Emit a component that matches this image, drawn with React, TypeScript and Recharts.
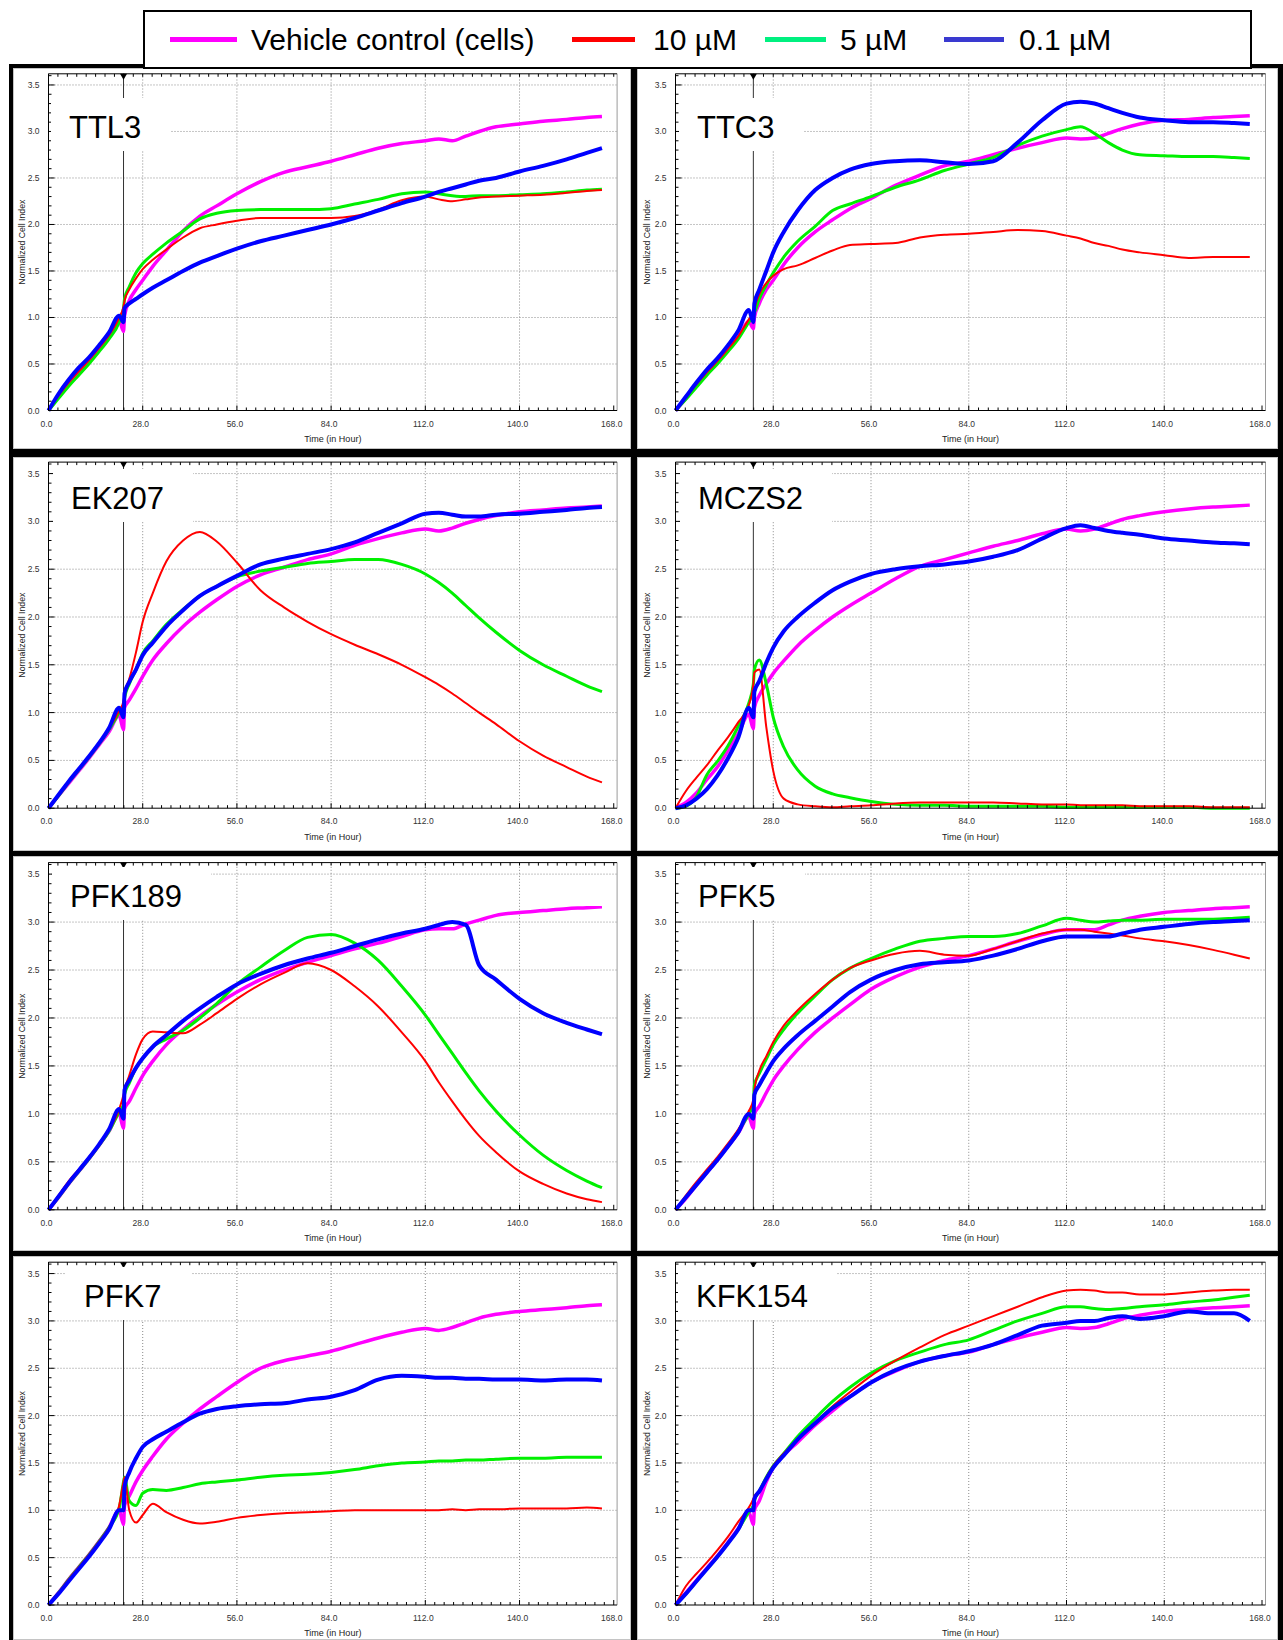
import React from 'react';
import { LineChart, Line, XAxis, YAxis, ReferenceLine } from 'recharts';

// sampling times (hours), shared by every curve
const TIME_H = [0, 3, 6, 9, 12, 15, 18, 21, 22.3, 22.6, 24, 26, 28, 31, 35, 40, 45, 50, 56, 63, 70, 77, 84, 91, 98, 105, 112, 116, 120, 124, 128, 133, 140, 147, 154, 160, 164.5];

const X_LABELS = [0, 28, 56, 84, 112, 140, 168];
const Y_LABELS = [0, 0.5, 1, 1.5, 2, 2.5, 3, 3.5];
const TREATMENT_H = 22.3;

// TTL3
const TTL3_VEH = [0, 0.15, 0.29, 0.41, 0.53, 0.66, 0.8, 0.97, 0.85, 1.02, 1.18, 1.3, 1.4, 1.55, 1.72, 1.93, 2.09, 2.2, 2.33, 2.46, 2.56, 2.62, 2.68, 2.75, 2.82, 2.87, 2.9, 2.92, 2.9, 2.95, 3.0, 3.05, 3.08, 3.11, 3.13, 3.15, 3.16];
const TTL3_10 = [0, 0.16, 0.3, 0.42, 0.54, 0.67, 0.81, 1.0, 1.12, 1.18, 1.3, 1.42, 1.52, 1.62, 1.73, 1.86, 1.96, 2.0, 2.04, 2.07, 2.07, 2.07, 2.07, 2.09, 2.16, 2.26, 2.3, 2.27, 2.25, 2.27, 2.29, 2.3, 2.31, 2.32, 2.34, 2.36, 2.37];
const TTL3_5 = [0, 0.13, 0.26, 0.38, 0.5, 0.63, 0.77, 0.95, 1.1, 1.2, 1.33, 1.48, 1.58, 1.68, 1.8, 1.93, 2.06, 2.12, 2.15, 2.16, 2.16, 2.16, 2.17, 2.22, 2.27, 2.33, 2.35, 2.33, 2.31, 2.3, 2.31, 2.31, 2.32, 2.33, 2.35, 2.37, 2.38];
const TTL3_01 = [0, 0.18, 0.33, 0.46, 0.57, 0.7, 0.84, 1.02, 0.95, 1.1, 1.15, 1.2, 1.25, 1.32, 1.4, 1.5, 1.59, 1.66, 1.74, 1.82, 1.88, 1.94, 2.0, 2.07, 2.15, 2.23, 2.3, 2.35, 2.39, 2.43, 2.47, 2.5, 2.57, 2.63, 2.7, 2.77, 2.82];

// TTC3
const TTC3_VEH = [0, 0.13, 0.27, 0.4, 0.52, 0.65, 0.79, 0.96, 0.88, 1.0, 1.15, 1.3, 1.4, 1.57, 1.75, 1.92, 2.05, 2.17, 2.28, 2.42, 2.53, 2.63, 2.68, 2.75, 2.82, 2.88, 2.93, 2.92, 2.93, 2.98, 3.03, 3.08, 3.12, 3.13, 3.15, 3.16, 3.17];
const TTC3_10 = [0, 0.14, 0.28, 0.41, 0.53, 0.66, 0.8, 0.98, 1.05, 1.1, 1.25, 1.37, 1.45, 1.52, 1.56, 1.64, 1.72, 1.78, 1.79, 1.8, 1.86, 1.89, 1.9, 1.92, 1.94, 1.93, 1.88, 1.85, 1.8, 1.77, 1.73, 1.7, 1.67, 1.64, 1.65, 1.65, 1.65];
const TTC3_5 = [0, 0.12, 0.25, 0.38, 0.5, 0.63, 0.77, 0.95, 1.02, 1.05, 1.2, 1.35, 1.48, 1.65, 1.82, 1.98, 2.15, 2.22, 2.3, 2.4, 2.48, 2.58, 2.65, 2.72, 2.85, 2.95, 3.02, 3.05, 2.98, 2.88, 2.8, 2.75, 2.74, 2.73, 2.73, 2.72, 2.71];
const TTC3_01 = [0, 0.15, 0.3, 0.44, 0.56, 0.7, 0.86, 1.08, 0.95, 1.15, 1.3, 1.5, 1.7, 1.92, 2.15, 2.37, 2.5, 2.59, 2.65, 2.68, 2.69, 2.67, 2.65, 2.68, 2.88, 3.12, 3.3, 3.32, 3.3, 3.25, 3.2, 3.15, 3.12, 3.1, 3.1, 3.09, 3.08];

// EK207
const EK207_VEH = [0, 0.13, 0.26, 0.39, 0.52, 0.66, 0.8, 0.97, 0.82, 1.05, 1.13, 1.25, 1.38, 1.55, 1.72, 1.9, 2.05, 2.18, 2.32, 2.44, 2.52, 2.6, 2.66, 2.75, 2.82, 2.88, 2.92, 2.9, 2.93, 2.98, 3.02, 3.06, 3.1, 3.12, 3.14, 3.15, 3.16];
const EK207_10 = [0, 0.14, 0.28, 0.41, 0.54, 0.68, 0.83, 1.02, 1.12, 1.2, 1.35, 1.63, 1.95, 2.25, 2.58, 2.8, 2.89, 2.79, 2.57, 2.28, 2.1, 1.95, 1.82, 1.71, 1.61, 1.5, 1.37, 1.29, 1.2, 1.1, 1.0, 0.88, 0.7, 0.55, 0.43, 0.33, 0.27];
const EK207_5 = [0, 0.13, 0.27, 0.4, 0.53, 0.67, 0.82, 1.0, 1.08, 1.15, 1.3, 1.45, 1.62, 1.75, 1.92, 2.08, 2.22, 2.32, 2.42, 2.48, 2.52, 2.56, 2.58, 2.6, 2.6, 2.55, 2.45, 2.36, 2.25, 2.12, 1.99, 1.84, 1.65, 1.5, 1.38, 1.28, 1.22];
const EK207_01 = [0, 0.14, 0.28, 0.41, 0.54, 0.68, 0.84, 1.05, 0.95, 1.2, 1.32, 1.45, 1.6, 1.73, 1.9, 2.07, 2.22, 2.32, 2.43, 2.55, 2.61, 2.66, 2.71, 2.78, 2.88, 2.98, 3.08, 3.09, 3.07, 3.05, 3.05, 3.07, 3.08, 3.1, 3.12, 3.14, 3.15];

// MCZS2
const MCZS2_VEH = [0, 0.06, 0.16, 0.3, 0.43, 0.6, 0.78, 0.98, 0.83, 1.05, 1.18, 1.3, 1.41, 1.54, 1.7, 1.86, 2.0, 2.12, 2.25, 2.4, 2.53, 2.6, 2.67, 2.74, 2.8, 2.87, 2.92, 2.9, 2.92, 2.97, 3.02, 3.06, 3.1, 3.13, 3.15, 3.16, 3.17];
const MCZS2_10 = [0, 0.18, 0.32, 0.45, 0.6, 0.74, 0.9, 1.08, 1.3, 1.42, 1.45, 0.85, 0.39, 0.1, 0.04, 0.02, 0.01, 0.02, 0.03, 0.05, 0.06, 0.06, 0.06, 0.06, 0.05, 0.04, 0.04, 0.03, 0.03, 0.03, 0.03, 0.02, 0.02, 0.02, 0.01, 0.01, 0.01];
const MCZS2_5 = [0, 0.02, 0.12, 0.35, 0.49, 0.65, 0.86, 1.1, 1.3, 1.45, 1.55, 1.3, 0.95, 0.64, 0.4, 0.23, 0.15, 0.11, 0.07, 0.04, 0.03, 0.03, 0.02, 0.02, 0.02, 0.02, 0.01, 0.01, 0.01, 0.01, 0.01, 0.01, 0.01, 0.01, 0, 0, 0];
const MCZS2_01 = [0, 0.03, 0.1, 0.2, 0.34, 0.52, 0.74, 1.05, 0.95, 1.22, 1.33, 1.52, 1.68, 1.85, 2.0, 2.15, 2.28, 2.37, 2.45, 2.5, 2.53, 2.55, 2.58, 2.63, 2.7, 2.82, 2.93, 2.96, 2.93, 2.9, 2.88, 2.86, 2.82, 2.8, 2.78, 2.77, 2.76];

// PFK189
const PFK189_VEH = [0, 0.13, 0.27, 0.4, 0.53, 0.67, 0.82, 1.0, 0.85, 1.05, 1.13, 1.27, 1.4, 1.55, 1.72, 1.88, 2.02, 2.14, 2.27, 2.4, 2.5, 2.58, 2.65, 2.72, 2.78, 2.85, 2.92, 2.93, 2.93, 2.98, 3.02, 3.07, 3.1, 3.12, 3.14, 3.15, 3.16];
const PFK189_10 = [0, 0.15, 0.3, 0.42, 0.55, 0.68, 0.83, 1.05, 1.2, 1.25, 1.4, 1.62, 1.78, 1.86, 1.85, 1.84, 1.93, 2.05, 2.2, 2.35, 2.47, 2.57, 2.5, 2.33, 2.12, 1.85, 1.55, 1.33, 1.13, 0.94, 0.77, 0.6, 0.4, 0.27, 0.17, 0.11, 0.08];
const PFK189_5 = [0, 0.13, 0.27, 0.4, 0.53, 0.67, 0.82, 1.02, 1.1, 1.2, 1.32, 1.48, 1.58, 1.7, 1.78, 1.87, 2.0, 2.15, 2.35, 2.53, 2.7, 2.84, 2.87, 2.78, 2.6, 2.33, 2.03, 1.83, 1.63, 1.43, 1.24, 1.03, 0.78, 0.57, 0.41, 0.3, 0.23];
const PFK189_01 = [0, 0.14, 0.28, 0.41, 0.54, 0.68, 0.84, 1.05, 0.95, 1.25, 1.35, 1.48, 1.58, 1.7, 1.82, 1.97, 2.1, 2.22, 2.35, 2.46, 2.55, 2.62, 2.68, 2.75, 2.82, 2.88, 2.93, 2.97, 3.0, 2.97, 2.55, 2.4, 2.2, 2.05, 1.95, 1.88, 1.83];

// PFK5
const PFK5_VEH = [0, 0.12, 0.26, 0.39, 0.52, 0.66, 0.8, 0.97, 0.85, 1.0, 1.08, 1.22, 1.35, 1.5, 1.67, 1.85, 2.0, 2.14, 2.3, 2.43, 2.53, 2.6, 2.65, 2.72, 2.8, 2.87, 2.92, 2.92, 2.92, 2.97, 3.02, 3.06, 3.1, 3.12, 3.14, 3.15, 3.16];
const PFK5_10 = [0, 0.15, 0.29, 0.42, 0.55, 0.69, 0.84, 1.03, 1.15, 1.25, 1.45, 1.6, 1.75, 1.92, 2.08, 2.25, 2.4, 2.52, 2.6, 2.67, 2.7, 2.66, 2.65, 2.72, 2.8, 2.88, 2.92, 2.92, 2.9, 2.88, 2.86, 2.83, 2.8, 2.76, 2.71, 2.66, 2.62];
const PFK5_5 = [0, 0.13, 0.27, 0.4, 0.53, 0.67, 0.82, 1.0, 1.1, 1.3, 1.42, 1.57, 1.72, 1.88, 2.05, 2.23, 2.4, 2.52, 2.62, 2.72, 2.8, 2.83, 2.85, 2.85, 2.88, 2.96, 3.04, 3.02, 3.0, 3.01, 3.02, 3.02, 3.03, 3.03, 3.03, 3.04, 3.05];
const PFK5_01 = [0, 0.13, 0.26, 0.39, 0.52, 0.66, 0.81, 1.0, 0.95, 1.2, 1.3, 1.43, 1.55, 1.68, 1.82, 1.97, 2.12, 2.27, 2.4, 2.5, 2.56, 2.58, 2.6, 2.65, 2.72, 2.8, 2.85, 2.85, 2.85, 2.85, 2.88, 2.92, 2.95, 2.98, 3.0, 3.01, 3.02];

// PFK7
const PFK7_VEH = [0, 0.13, 0.27, 0.4, 0.53, 0.67, 0.82, 1.0, 0.85, 1.05, 1.15, 1.3, 1.42, 1.57, 1.75, 1.92, 2.07, 2.2, 2.35, 2.5, 2.58, 2.63, 2.68, 2.75, 2.82, 2.88, 2.92, 2.9, 2.93, 2.98, 3.03, 3.07, 3.1, 3.12, 3.14, 3.16, 3.17];
const PFK7_10 = [0, 0.13, 0.27, 0.4, 0.53, 0.67, 0.82, 1.05, 1.3, 1.35, 1.0, 0.87, 0.95, 1.07, 0.98, 0.9, 0.86, 0.88, 0.92, 0.95, 0.97, 0.98, 0.99, 1.0, 1.0, 1.0, 1.0, 1.0, 1.01, 1.0, 1.01, 1.01, 1.02, 1.02, 1.02, 1.03, 1.02];
const PFK7_5 = [0, 0.13, 0.27, 0.4, 0.53, 0.67, 0.82, 1.02, 1.3, 1.35, 1.1, 1.05, 1.18, 1.22, 1.21, 1.24, 1.28, 1.3, 1.32, 1.35, 1.37, 1.38, 1.4, 1.43, 1.47, 1.5, 1.51, 1.52, 1.52, 1.53, 1.53, 1.54, 1.55, 1.55, 1.56, 1.56, 1.56];
const PFK7_01 = [0, 0.12, 0.25, 0.38, 0.51, 0.65, 0.8, 1.0, 1.0, 1.25, 1.4, 1.55, 1.67, 1.75, 1.83, 1.93, 2.02, 2.07, 2.1, 2.12, 2.13, 2.17, 2.2, 2.27, 2.38, 2.42, 2.41, 2.4, 2.4, 2.39, 2.39, 2.38, 2.38, 2.37, 2.38, 2.38, 2.37];

// KFK154
const KFK154_VEH = [0, 0.13, 0.26, 0.39, 0.52, 0.66, 0.81, 0.98, 0.85, 1.0, 1.1, 1.3, 1.45, 1.58, 1.72, 1.9, 2.05, 2.2, 2.35, 2.47, 2.57, 2.63, 2.67, 2.75, 2.82, 2.88, 2.93, 2.92, 2.93, 2.97, 3.02, 3.06, 3.1, 3.12, 3.14, 3.15, 3.16];
const KFK154_10 = [0, 0.2, 0.33, 0.45, 0.58, 0.72, 0.88, 1.03, 1.12, 1.15, 1.2, 1.35, 1.47, 1.6, 1.75, 1.93, 2.1, 2.25, 2.42, 2.58, 2.72, 2.85, 2.95, 3.05, 3.15, 3.25, 3.32, 3.33, 3.32, 3.3, 3.3, 3.28, 3.28, 3.3, 3.32, 3.33, 3.33];
const KFK154_5 = [0, 0.12, 0.25, 0.38, 0.51, 0.65, 0.8, 0.98, 1.05, 1.1, 1.2, 1.35, 1.47, 1.6, 1.78, 1.97, 2.15, 2.3, 2.45, 2.58, 2.67, 2.75, 2.8, 2.9, 3.0, 3.08, 3.15, 3.15, 3.13, 3.12, 3.13, 3.15, 3.17, 3.2, 3.22, 3.25, 3.27];
const KFK154_01 = [0, 0.12, 0.25, 0.38, 0.51, 0.65, 0.8, 1.0, 1.0, 1.12, 1.2, 1.33, 1.45, 1.58, 1.75, 1.92, 2.08, 2.2, 2.35, 2.48, 2.57, 2.63, 2.68, 2.75, 2.85, 2.95, 2.98, 3.0, 3.0, 3.03, 3.05, 3.02, 3.05, 3.1, 3.08, 3.08, 3.0];

const SERIES = [
  { key: 'veh', plot: '#ff00ff', width: 3.5 },
  { key: 'c5', plot: '#00f000', width: 3 },
  { key: 'c10', plot: '#ff0000', width: 2 },
  { key: 'c01', plot: '#0000ff', width: 4 },
];

const LEGEND = [
  { name: 'Vehicle control (cells)', color: '#ff00ff', segX: 170, segW: 67, textX: 251 },
  { name: '10 µM', color: '#ff0000', segX: 572, segW: 63, textX: 653 },
  { name: '5 µM', color: '#00f080', segX: 765, segW: 61, textX: 840 },
  { name: '0.1 µM', color: '#3a3ad0', segX: 944, segW: 60, textX: 1019 },
];

const PANELS = [
  { name: 'TTL3', col: 0, row: 0, labelX: 69, veh: TTL3_VEH, c10: TTL3_10, c5: TTL3_5, c01: TTL3_01 },
  { name: 'TTC3', col: 1, row: 0, labelX: 697, veh: TTC3_VEH, c10: TTC3_10, c5: TTC3_5, c01: TTC3_01 },
  { name: 'EK207', col: 0, row: 1, labelX: 71, veh: EK207_VEH, c10: EK207_10, c5: EK207_5, c01: EK207_01 },
  { name: 'MCZS2', col: 1, row: 1, labelX: 698, veh: MCZS2_VEH, c10: MCZS2_10, c5: MCZS2_5, c01: MCZS2_01 },
  { name: 'PFK189', col: 0, row: 2, labelX: 70, veh: PFK189_VEH, c10: PFK189_10, c5: PFK189_5, c01: PFK189_01 },
  { name: 'PFK5', col: 1, row: 2, labelX: 698, veh: PFK5_VEH, c10: PFK5_10, c5: PFK5_5, c01: PFK5_01 },
  { name: 'PFK7', col: 0, row: 3, labelX: 84, veh: PFK7_VEH, c10: PFK7_10, c5: PFK7_5, c01: PFK7_01 },
  { name: 'KFK154', col: 1, row: 3, labelX: 696, veh: KFK154_VEH, c10: KFK154_10, c5: KFK154_5, c01: KFK154_01 },
];

// layout (page pixels)
const COLS = [
  { left: 13, width: 618, mLeft: 5.5, mRight: 13.9, yLabelX: 8.7 },
  { left: 637, width: 641, mLeft: 8.5, mRight: 12.5, yLabelX: 10 },
];
const ROWS = [
  { top: 68, height: 381, mTop: 5.8, mBottom: 16.5, capTop: 116 },
  { top: 457, height: 394, mTop: 5.1, mBottom: 20.8, capTop: 487 },
  { top: 856, height: 395, mTop: 6.6, mBottom: 19.2, capTop: 885 },
  { top: 1256, height: 384, mTop: 6.2, mBottom: 13, capTop: 1285 },
];
const Y_AXIS_W = 30;
const X_AXIS_H = 22;
const X_MAX = 169;
const Y_MAX = 3.62;

const X_TICKS = Array.from({ length: 61 }, (_, k) => (k * 28) / 10);
const TOP_TICKS = [...X_TICKS, TREATMENT_H];
const Y_TICKS = Array.from({ length: 37 }, (_, k) => k / 10);

const FONT = '"Liberation Sans", Arial, sans-serif';

const bottomTick = (props: any) => {
  const { x, y, payload } = props;
  const v = payload.value;
  const major = X_LABELS.includes(v);
  return (
    <g>
      <line x1={x} x2={x} y1={y} y2={y - (major ? 5 : 3)} stroke="#000" />
      {major && (
        <text x={x - 2} y={y + 16} textAnchor="middle" fontSize={8.5} fill="#333">
          {v.toFixed(1)}
        </text>
      )}
    </g>
  );
};

const topTick = (props: any) => {
  const { x, y, payload } = props;
  if (Math.abs(payload.value - TREATMENT_H) < 1e-6) {
    return <polygon points={`${x - 3.5},${y} ${x + 3.5},${y} ${x},${y + 6}`} fill="#000" />;
  }
  return <line x1={x} x2={x} y1={y} y2={y + 3} stroke="#000" />;
};

const leftTick = (props: any) => {
  const { x, y, payload } = props;
  const v = payload.value;
  const major = Math.round(v * 10) % 5 === 0;
  return (
    <g>
      <line x1={x} x2={x + (major ? 6 : 3)} y1={y} y2={y} stroke="#000" />
      {major && (
        <text x={x - 9} y={y + 3} textAnchor="end" fontSize={8.5} fill="#333">
          {v.toFixed(1)}
        </text>
      )}
    </g>
  );
};

function Panel({ p }: { p: any }) {
  const col = COLS[p.col];
  const row = ROWS[p.row];
  const rows = TIME_H.map((t, i) => ({ t, veh: p.veh[i], c10: p.c10[i], c5: p.c5[i], c01: p.c01[i] }));
  return (
    <div style={{ position: 'absolute', left: col.left, top: row.top, width: col.width, height: row.height, background: '#fff' }}>
      <LineChart
        width={col.width}
        height={row.height}
        data={rows}
        margin={{ top: row.mTop - 1, right: col.mRight, bottom: row.mBottom, left: col.mLeft }}
      >
        <XAxis
          dataKey="t"
          type="number"
          domain={[0, X_MAX]}
          ticks={X_TICKS}
          interval={0}
          height={X_AXIS_H}
          tickSize={0}
          tickMargin={0}
          tickLine={false}
          tick={bottomTick}
          axisLine={{ stroke: '#000' }}
          label={{ value: 'Time (in Hour)', position: 'bottom', offset: 3, fontSize: 9, fill: '#222' }}
        />
        <XAxis
          xAxisId="top"
          orientation="top"
          dataKey="t"
          type="number"
          domain={[0, X_MAX]}
          ticks={TOP_TICKS}
          interval={0}
          height={1}
          tickSize={0}
          tickMargin={0}
          tickLine={false}
          tick={topTick}
          axisLine={{ stroke: '#000' }}
        />
        <YAxis
          type="number"
          domain={[0, Y_MAX]}
          ticks={Y_TICKS}
          interval={0}
          width={Y_AXIS_W}
          tickSize={0}
          tickMargin={0}
          tickLine={false}
          tick={leftTick}
          axisLine={{ stroke: '#000' }}
          label={{
            value: 'Normalized Cell Index',
            angle: -90,
            position: 'insideLeft',
            offset: col.yLabelX - col.mLeft,
            style: { textAnchor: 'middle', fontSize: 8.7, fill: '#222' },
          }}
        />
        {Y_LABELS.filter((v) => v > 0).map((v) => (
          <ReferenceLine key={`h${v}`} y={v} stroke="#8a8a8a" strokeDasharray="1 2" />
        ))}
        {X_LABELS.filter((v) => v > 0 && v < 168).map((v) => (
          <ReferenceLine key={`v${v}`} x={v} stroke="#8a8a8a" strokeDasharray="1 2" />
        ))}
        <ReferenceLine x={X_MAX} stroke="#9a9a9a" />
        <ReferenceLine x={TREATMENT_H} stroke="#333" />
        {SERIES.map((s) => (
          <Line
            key={s.key}
            dataKey={s.key}
            type="monotone"
            stroke={s.plot}
            strokeWidth={s.width}
            dot={false}
            isAnimationActive={false}
          />
        ))}
      </LineChart>
      <div
        style={{
          position: 'absolute',
          left: p.labelX - 18 - col.left,
          top: row.capTop - 18 - row.top,
          padding: '14px 29px 8px 18px',
          background: '#fff',
          fontSize: 31,
          lineHeight: '31px',
          color: '#000',
        }}
      >
        {p.name}
      </div>
      <div style={{ position: 'absolute', inset: 0, border: '1px solid #c4c4c4', pointerEvents: 'none' }} />
    </div>
  );
}

export default function App() {
  return (
    <div style={{ position: 'absolute', left: 0, top: 0, width: 1283, height: 1640, background: '#fff', fontFamily: FONT, overflow: 'hidden' }}>
      <div style={{ position: 'absolute', left: 9, top: 64, width: 1274, height: 1576, background: '#000' }} />
      {PANELS.map((p) => (
        <Panel key={p.name} p={p} />
      ))}
      <div
        style={{
          position: 'absolute',
          left: 143,
          top: 10,
          width: 1109,
          height: 59,
          boxSizing: 'border-box',
          border: '2px solid #000',
          background: '#fff',
        }}
      />
      {LEGEND.map((l) => (
        <React.Fragment key={l.name}>
          <div style={{ position: 'absolute', left: l.segX, top: 37, width: l.segW, height: 5, background: l.color }} />
          <div style={{ position: 'absolute', left: l.textX, top: 25, fontSize: 30, lineHeight: '30px', color: '#000', whiteSpace: 'nowrap' }}>
            {l.name}
          </div>
        </React.Fragment>
      ))}
    </div>
  );
}
